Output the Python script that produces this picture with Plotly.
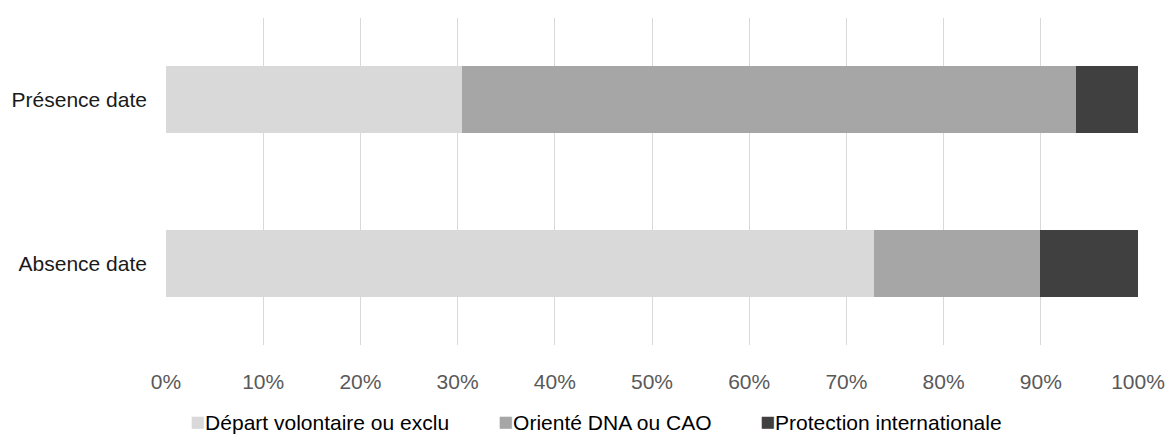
import plotly.graph_objects as go

# Share of outcomes (%) per group, stacked to 100%
categories = ["Absence date", "Présence date"]
series_names = ["Départ volontaire ou exclu", "Orienté DNA ou CAO", "Protection internationale"]
depart_volontaire = [72.8, 30.5]
oriente_dna_cao = [17.1, 63.1]
protection_internationale = [10.1, 6.4]
tick_values = [0, 10, 20, 30, 40, 50, 60, 70, 80, 90, 100]
tick_labels = ["0%", "10%", "20%", "30%", "40%", "50%", "60%", "70%", "80%", "90%", "100%"]

colors = ["#d9d9d9", "#a6a6a6", "#404040"]
values = [depart_volontaire, oriente_dna_cao, protection_internationale]

fig = go.Figure()
for name, vals, col in zip(series_names, values, colors):
    fig.add_trace(go.Bar(
        y=categories, x=vals, name=name, orientation="h",
        marker=dict(color=col, line=dict(width=0)),
        showlegend=False,
    ))

# Legend drawn as a single row of coloured squares followed by labels
legend_x_px = [189, 497, 759]
plot_left, plot_width = 166, 972
for name, col, px in zip(series_names, colors, legend_x_px):
    fig.add_annotation(
        x=(px - plot_left) / plot_width, y=-0.232, xref="paper", yref="paper",
        xanchor="left", yanchor="middle", showarrow=False,
        text=f'<span style="color:{col};font-size:25px">■</span>{name}',
        font=dict(family="Liberation Sans, Arial, sans-serif", size=21, color="#000000"),
        borderpad=0,
    )

fig.update_layout(
    barmode="stack",
    bargap=0.59,
    width=1168, height=434,
    margin=dict(l=166, r=30, t=18, b=89),
    paper_bgcolor="white", plot_bgcolor="white",
    font=dict(family="Liberation Sans, Arial, sans-serif", size=21),
    xaxis=dict(
        range=[0, 100], tickvals=tick_values, ticktext=tick_labels,
        showgrid=True, gridcolor="#d9d9d9", gridwidth=1.3,
        zeroline=False, showline=False, ticks="",
        tickfont=dict(color="#595959", size=21),
        ticklabelstandoff=22,
        automargin=False,
        fixedrange=True,
    ),
    yaxis=dict(
        categoryorder="array", categoryarray=categories,
        showgrid=False, zeroline=False, showline=False, ticks="",
        tickfont=dict(color="#1a1a1a", size=21),
        ticklabelstandoff=18,
        automargin=False,
        fixedrange=True,
    ),
)

fig.write_html("out.html", config={"displayModeBar": False})
